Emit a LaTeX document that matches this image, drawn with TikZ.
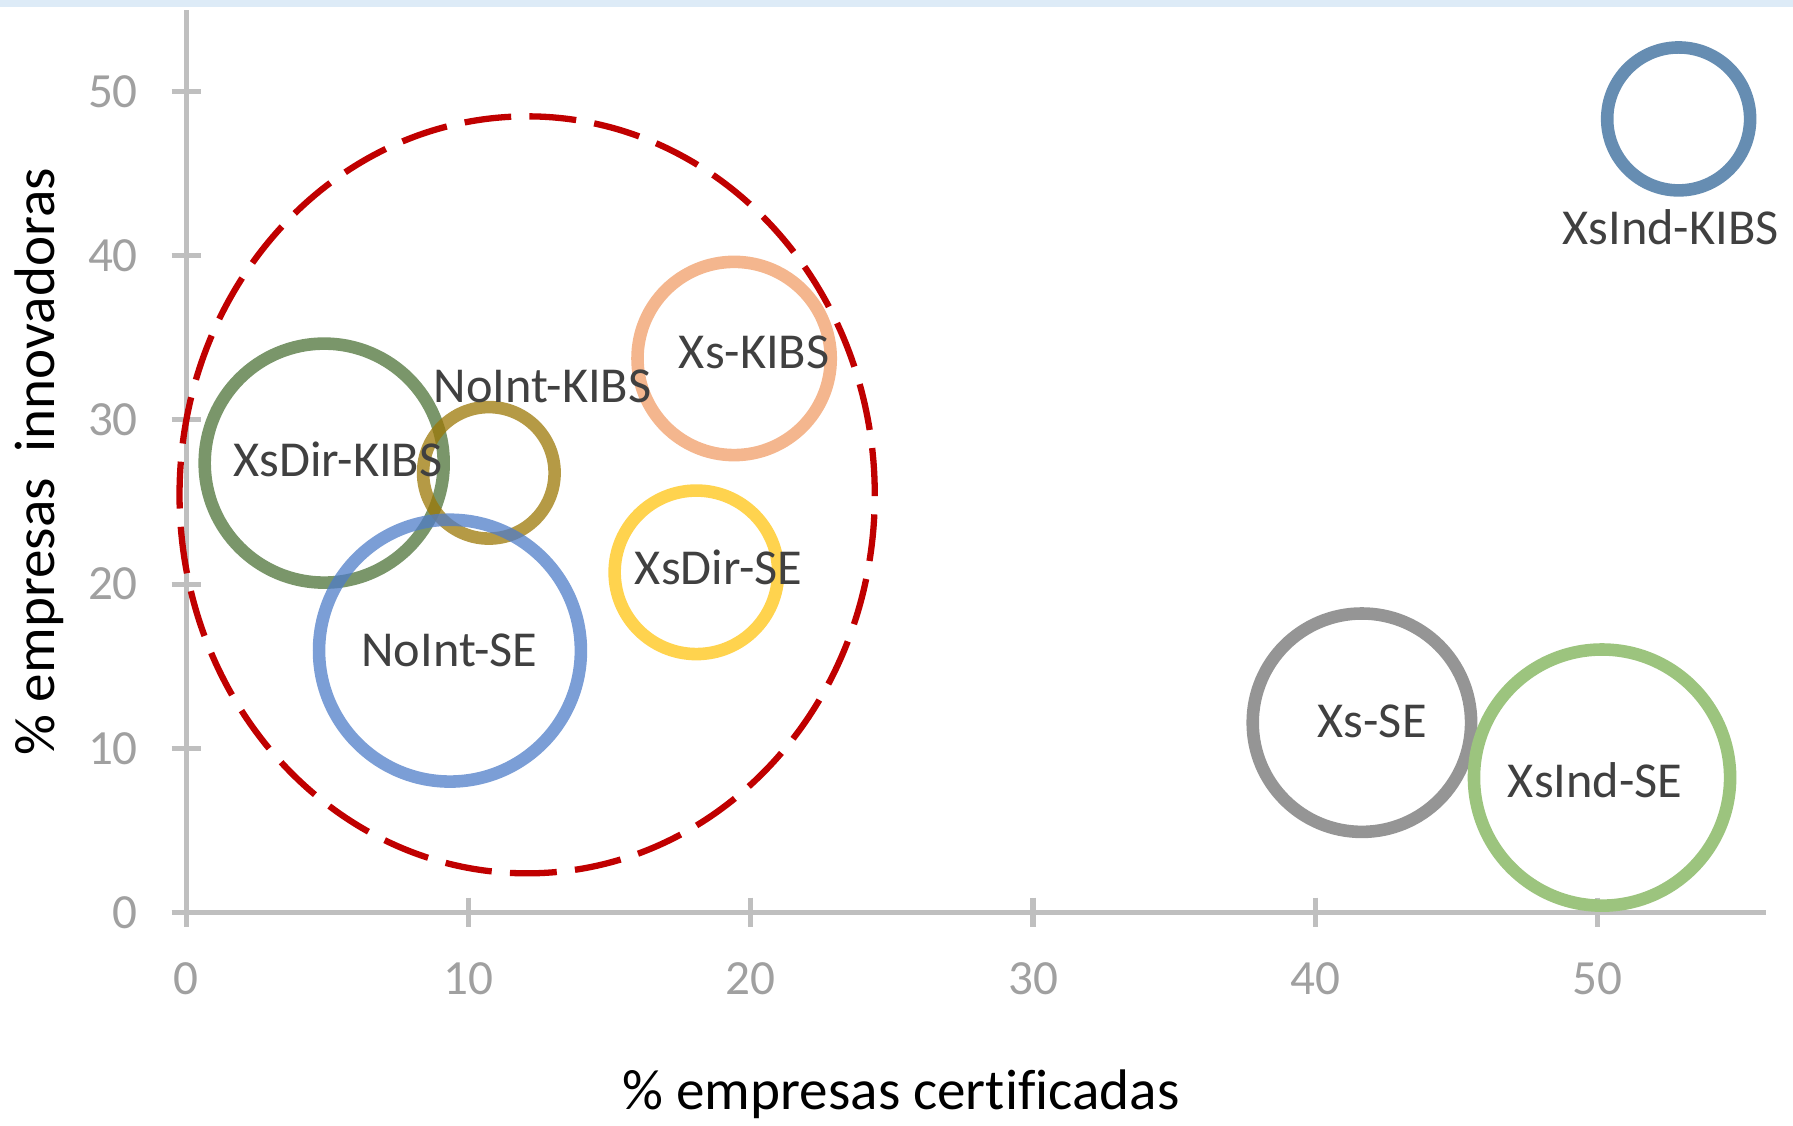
\documentclass[tikz,border=0pt]{standalone}
\usepackage{fontspec}
\setmainfont{Carlito}[Ligatures=NoCommon]
\definecolor{stripblue}{HTML}{DDEBF7}
\definecolor{axisgray}{HTML}{BFBFBF}
\definecolor{ticktext}{HTML}{A0A0A0}
\definecolor{labeltext}{HTML}{404040}
\definecolor{redline}{HTML}{C00000}
\definecolor{cXsIndKIBS}{HTML}{668DB2}
\definecolor{cXsKIBS}{HTML}{F4B68E}
\definecolor{cXsDirKIBS}{HTML}{4D7338}
\definecolor{cNoIntKIBS}{HTML}{9C7807}
\definecolor{cNoIntSE}{HTML}{4F7DC8}
\definecolor{cXsDirSE}{HTML}{FFD34E}
\definecolor{cXsSE}{HTML}{959595}
\definecolor{cXsIndSE}{HTML}{9CC47E}
\begin{document}
\begin{tikzpicture}[x=0.5pt,y=-0.5pt,
  ring/.style={circle, draw, line width=5.5pt, inner sep=0pt, outer sep=0pt},
  lbl/.style={font=\fontsize{22}{26}\selectfont, text=labeltext, inner sep=0pt, anchor=base},
  ticklbl/.style={font=\fontsize{21.5}{25}\selectfont, text=ticktext, inner sep=0pt},
  axistitle/.style={font=\fontsize{25}{30}\selectfont, text=black, inner sep=0pt, anchor=base},
  axisline/.style={draw=axisgray, line width=2.25pt},
  groupline/.style={draw=redline, line width=2.75pt, dash pattern=on 20.5pt off 8pt}]
\useasboundingbox (0,0) rectangle (1568,984);
\fill[stripblue] (0,0) rectangle (1568,6);
% axes
\draw[axisline] (163,9) -- (163,811);
\draw[axisline] (151,798) -- (1544,798);
\foreach \k/\v in {0/0,1/10,2/20,3/30,4/40,5/50}{
  \draw[axisline] (150,798-143.6*\k) -- (176,798-143.6*\k);
  \node[ticklbl, anchor=east] (yt\k) at (121,798-143.6*\k) {\v};
  \draw[axisline] (163+246.8*\k,785) -- (163+246.8*\k,811);
  \node[ticklbl, anchor=base] (xt\k) at (163+246.8*\k,870) {\v};
}
% dashed group ellipse
\draw[groupline] (461,432.75) ellipse [x radius=152pt, y radius=165.5pt];
% bubbles
\node[ring, draw=cXsIndKIBS, minimum size=62.5pt] (bXsIndKIBS) at (1468,104) {};
\node[ring, draw=cXsKIBS, minimum size=84.5pt] (bXsKIBS) at (642,313.5) {};
\node[ring, draw=cXsDirKIBS, draw opacity=0.75, minimum size=104.5pt] (bXsDirKIBS) at (283.5,405) {};
\node[ring, draw=cNoIntKIBS, draw opacity=0.75, minimum size=57.5pt] (bNoIntKIBS) at (427.5,413.5) {};
\node[ring, draw=cNoIntSE, draw opacity=0.75, minimum size=114.5pt] (bNoIntSE) at (393.5,569) {};
\node[ring, draw=cXsDirSE, minimum size=71.5pt] (bXsDirSE) at (609,500.5) {};
\node[ring, draw=cXsSE, minimum size=95.5pt] (bXsSE) at (1191,632) {};
\node[ring, draw=cXsIndSE, minimum size=112pt] (bXsIndSE) at (1401,680) {};
% labels
\node[lbl] (lXsIndKIBS) at (1461,214) {XsInd-KIBS};
\node[lbl] (lXsKIBS) at (659.5,322) {Xs-KIBS};
\node[lbl] (lNoIntKIBS) at (474.5,352) {NoInt-KIBS};
\node[lbl] (lXsDirKIBS) at (295.5,417) {XsDir-KIBS};
\node[lbl] (lXsDirSE) at (628.5,511.5) {XsDir-SE};
\node[lbl] (lNoIntSE) at (393,582.5) {NoInt-SE};
\node[lbl] (lXsSE) at (1200,645) {Xs-SE};
\node[lbl] (lXsIndSE) at (1395,697) {XsInd-SE};
% axis titles
\node[axistitle] (xtitle) at (788,970) {\% empresas certificadas};
\node[axistitle, rotate=90] (ytitle) at (48,404) {\% empresas\ \ innovadoras};
\end{tikzpicture}
\end{document}
